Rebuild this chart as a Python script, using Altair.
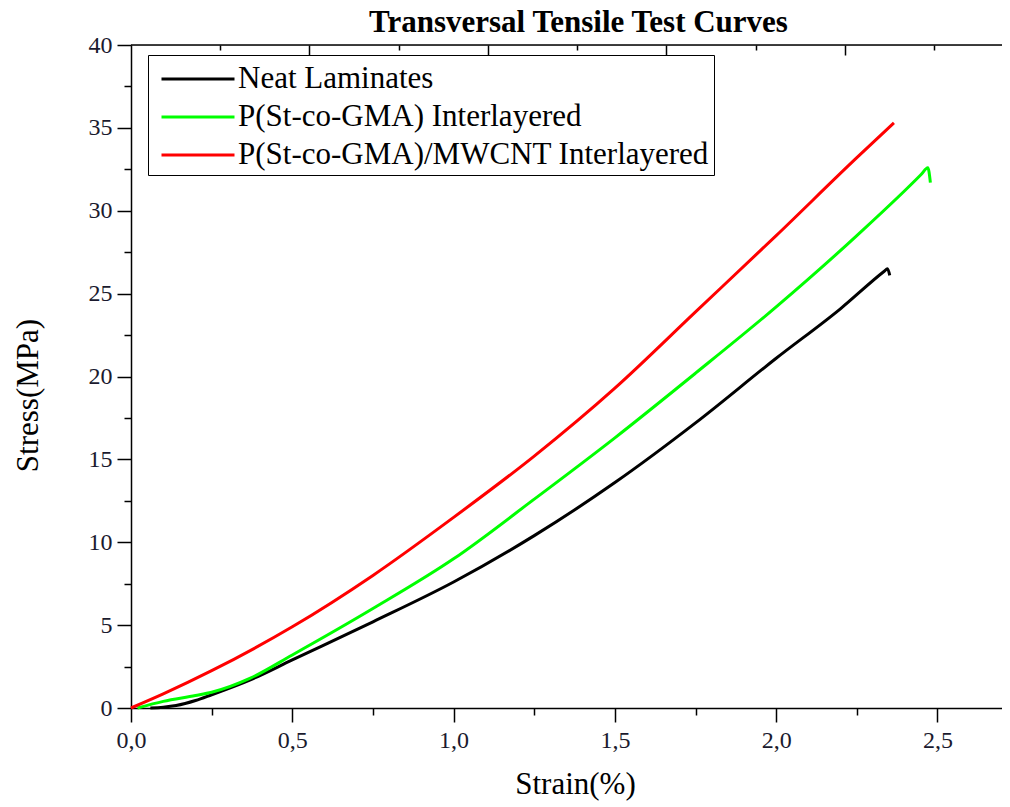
import altair as alt
import pandas as pd

# ---- data ----
series_names = ["Neat Laminates", "P(St-co-GMA) Interlayered", "P(St-co-GMA)/MWCNT Interlayered"]
series_colors = ["#000000", "#00ff00", "#ff0000"]

neat_strain = [0.06, 0.10, 0.14, 0.20, 0.25, 0.37, 0.50, 0.75, 1.00, 1.25, 1.50, 1.75, 2.00, 2.20, 2.335, 2.345, 2.352]
neat_stress = [0.0, 0.05, 0.15, 0.45, 0.80, 1.70, 2.90, 5.20, 7.60, 10.4, 13.6, 17.2, 21.1, 24.1, 26.35, 26.5, 26.1]

gma_strain = [0.02, 0.10, 0.20, 0.25, 0.37, 0.50, 0.75, 1.00, 1.25, 1.50, 1.75, 2.00, 2.25, 2.45, 2.470, 2.478]
gma_stress = [0.0, 0.40, 0.75, 0.95, 1.80, 3.20, 6.00, 9.00, 12.6, 16.3, 20.2, 24.2, 28.5, 32.2, 32.6, 31.7]

cnt_strain = [0.0, 0.10, 0.25, 0.50, 0.75, 1.00, 1.25, 1.50, 1.75, 2.00, 2.25, 2.365]
cnt_stress = [0.0, 0.85, 2.25, 4.90, 8.00, 11.5, 15.2, 19.3, 23.9, 28.5, 33.2, 35.3]

x_ticks = [0.0, 0.25, 0.5, 0.75, 1.0, 1.25, 1.5, 1.75, 2.0, 2.25, 2.5]
y_ticks = [0, 2.5, 5, 7.5, 10, 12.5, 15, 17.5, 20, 22.5, 25, 27.5, 30, 32.5, 35, 37.5, 40]
top_ticks = [0.2766, 0.5532, 0.8298, 1.1064, 1.383, 1.6596, 1.9362, 2.2128, 2.4894]

rows = []
for name, xs, ys in zip(series_names, [neat_strain, gma_strain, cnt_strain],
                        [neat_stress, gma_stress, cnt_stress]):
    for x, y in zip(xs, ys):
        rows.append({"series": name, "strain": x, "stress": y})
df = pd.DataFrame(rows)

FONT = "Liberation Serif"
W, H = 871, 663

x_scale = alt.Scale(domain=[0, 2.7], nice=False, zero=False)
y_scale = alt.Scale(domain=[0, 40], nice=False)

x_axis = alt.Axis(
    orient="bottom", values=x_ticks, title="Strain(%)", labelFlush=False,
    labelExpr="datum.value % 0.5 === 0 ? replace(format(datum.value, '.1f'), '.', ',') : ''",
    tickSize=14, tickWidth=1.5, tickColor="black",
    tickDash={"condition": {"test": "datum.value % 0.5 !== 0", "value": [7, 30]}, "value": []},
    domainColor="black", domainWidth=1.5, grid=False,
    labelFont=FONT, labelFontSize=24, labelColor="#1a1a2e", labelPadding=6,
    titleFont=FONT, titleFontSize=31, titleFontWeight="normal", titleColor="black",
    titleX=444, titleY=76, titleBaseline="middle", titleAlign="center",
)

y_axis = alt.Axis(
    orient="left", values=y_ticks, title="Stress(MPa)", labelFlush=False,
    labelExpr="datum.value % 5 === 0 ? format(datum.value, 'd') : ''",
    tickSize=14, tickWidth=1.5, tickColor="black",
    tickDash={"condition": {"test": "datum.value % 5 !== 0", "value": [7, 30]}, "value": []},
    domainColor="black", domainWidth=1.5, grid=False,
    labelFont=FONT, labelFontSize=24, labelColor="#1a1a2e", labelPadding=5,
    titleFont=FONT, titleFontSize=31, titleFontWeight="normal", titleColor="black",
    titleX=-103, titleY=350, titleBaseline="middle", titleAlign="center",
)

top_axis = alt.Axis(
    orient="top", values=top_ticks, labels=False, title=None, domain=False,
    offset=-10, tickSize=10, tickWidth=1.5, tickColor="black",
    tickDash={"condition": {"test": "round(datum.value / 0.2766) % 2 !== 0", "value": [0, 5, 5, 5]},
              "value": []},
    grid=False,
)

legend = alt.Legend(
    title=None, orient="none", legendX=17, legendY=10, direction="vertical",
    labelFont=FONT, labelFontSize=31, labelColor="black", labelLimit=0,
    symbolType="M-2.086,0H2.086", symbolSize=1225, symbolStrokeWidth=3,
    symbolOffset=26, labelOffset=21,
    strokeColor="black", fillColor="white", padding=5, rowPadding=4,
)

lines = alt.Chart(df).mark_line(strokeWidth=3, interpolate="monotone").encode(
    x=alt.X("strain:Q", scale=x_scale, axis=x_axis),
    y=alt.Y("stress:Q", scale=y_scale, axis=y_axis),
    color=alt.Color("series:N", scale=alt.Scale(domain=series_names, range=series_colors),
                    sort=series_names, legend=legend),
    order=alt.Order("strain:Q"),
)

top = alt.Chart(df).mark_point(opacity=0).encode(
    x=alt.X("strain:Q", scale=x_scale, axis=top_axis),
    y=alt.value(0),
)

frame_top = alt.Chart(pd.DataFrame({"k": [0]})).mark_rule(color="black", strokeWidth=1.5).encode(
    x=alt.value(0), x2=alt.value(W), y=alt.value(0)
)

chart = alt.layer(lines, top, frame_top).resolve_axis(x="independent").properties(
    width=W, height=H,
    title=alt.TitleParams(
        "Transversal Tensile Test Curves", font=FONT, fontSize=31, fontWeight="bold",
        color="black", anchor="middle", dx=12, dy=33, baseline="alphabetic", offset=3,
    ),
    autosize=alt.AutoSizeParams(type="none"),
    padding={"left": 123, "top": 37, "right": 0, "bottom": 96},
).configure_view(stroke=None).configure(background="white")

chart.save("out.html", embed_options={"renderer": "svg", "actions": False})
